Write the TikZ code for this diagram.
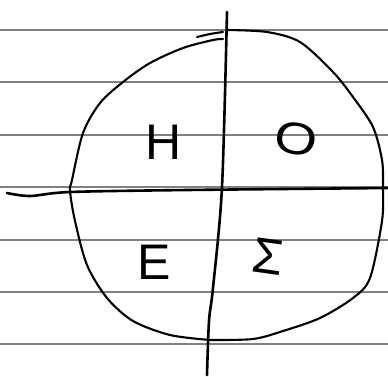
\documentclass[tikz,border=0pt]{standalone}
\usepackage{fontspec}
\newfontfamily\hand{Liberation Sans}
\begin{document}
\begin{tikzpicture}[x=1pt,y=-1pt,
  paperline/.style={draw=black!50,line width=1.2pt},
  ink/.style={draw=black,line width=2.6pt,line cap=round,line join=round},
  thin ink/.style={draw=black,line width=2.1pt,line cap=round,line join=round},
  letter/.style={font=\hand\fontsize{50}{50}\selectfont,inner sep=0pt,anchor=center}]
\useasboundingbox[fill=white] (0,0) rectangle (388,376);
% ruled paper
\foreach \yy/\nm in {30/l1,82/l2,135/l3,187/l4,240/l5,292/l6,344/l7}{
  \coordinate (\nm a) at (0,\yy);
  \coordinate (\nm b) at (388,\yy);
  \draw[paperline] (\nm a) -- (\nm b);
}
% circle (two strokes)
\draw[thin ink] plot[smooth] coordinates {(223,39) (213,40) (183,48) (150,63) (123,82) (100,103) (83,133) (72,180) (70,191) (75,221) (87,265) (107,298) (133,321) (170,335) (210,340)};
\draw[thin ink] plot[smooth] coordinates {(227,30) (267,32) (300,42) (333,72) (353,97) (373,127) (382,160) (383,187) (382,221) (370,278) (353,298) (320,318) (283,331) (253,339) (210,340)};
\draw[thin ink] plot[smooth] coordinates {(197,37) (210,34) (223,32)};
% axes
\coordinate (vtop) at (227,12);
\coordinate (vbot) at (207,375);
\draw[ink] plot[smooth] coordinates {(vtop) (222,187) (213,288) (209,321) (vbot)};
\coordinate (hleft) at (7,193);
\coordinate (hright) at (388,188);
\draw[ink] plot[smooth] coordinates {(hleft) (30,196) (70,192) (187,190) (hright)};
% letters
\node[letter] (H) at (164,142) {H};
\node[letter,rotate=-10,xscale=1.1,yscale=0.9] (O) at (296,139) {O};
\node[letter] (E) at (154,262) {E};
\node[letter,rotate=-8] (S) at (268,257) {Σ};
\end{tikzpicture}
\end{document}
